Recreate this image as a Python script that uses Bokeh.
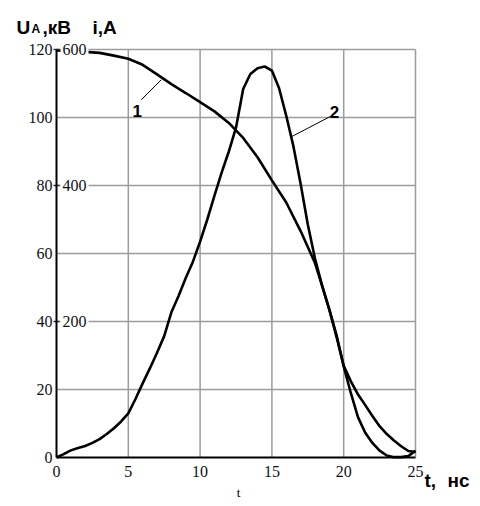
from bokeh.plotting import figure
from bokeh.models import Range1d, FixedTicker, Label
from bokeh.core.properties import value
from bokeh.embed import file_html
from bokeh.resources import INLINE

# ---- data ----
t_ticks = [0, 5, 10, 15, 20, 25]
u_ticks = [0, 20, 40, 60, 80, 100, 120]
i_ticks = [200, 400, 600]

# curve 1: voltage U_A, kV
t1 = [0, 1, 2, 3, 4, 5, 6, 7, 8, 9, 10, 11, 12, 13, 14, 15, 16, 17, 18, 18.5, 19,
      19.5, 20, 20.5, 21, 21.5, 22, 22.5, 23, 23.5, 24, 24.5, 25]
u1 = [119.7, 119.6, 119.3, 119.0, 118.2, 117.3, 115.5, 112.7, 109.8, 107.2, 104.5,
      101.8, 98.4, 94.0, 88.3, 81.5, 75.0, 66.6, 57.2, 50.5, 43.5,
      35.5, 27.0, 22.4, 18.5, 15.4, 12.2, 9.2, 6.9, 5.0, 3.3, 1.9, 1.6]

# curve 2: current i, A
t2 = [0, 0.5, 1, 1.5, 2, 2.5, 3, 3.5, 4, 4.5, 5, 5.5, 6, 6.5, 7, 7.5, 8, 8.5, 9, 9.5,
      10, 10.5, 11, 11.5, 12, 12.5, 13, 13.5, 14, 14.5, 15, 15.5, 16, 16.5, 17, 17.5,
      18, 18.5, 19, 19.5, 20, 20.5, 21, 21.5, 22, 22.5, 23, 23.5, 24, 24.5, 25]
i2 = [0, 5, 10.5, 14, 17, 21.5, 27, 34.5, 43, 53, 65, 86, 109, 131, 154, 178.5,
      213.5, 237.5, 264, 288, 317.5, 350, 385, 419, 450, 485, 542, 564, 572.5, 575,
      569, 543, 502.5, 457.5, 402.5, 342.5, 292.5, 252.5, 217.5, 180, 134, 94.5, 59,
      36.5, 21.5, 10, 3, 0.5, 0.5, 2, 10]

# ---- geometry: canvas pixels -> data units (plot box 0..25 x 0..120) ----
W, H = 478, 502
X0, X1, Y0, Y1 = 56.0, 415.0, 457.0, 49.0
def px(x):
    return (x - X0) * 25.0 / (X1 - X0)
def py(y):
    return (Y0 - y) * 120.0 / (Y0 - Y1)

GRID = "#9c9c9c"
T_MIN, T_MAX = t_ticks[0], t_ticks[-1]
U_MIN, U_MAX = u_ticks[0], u_ticks[-1]

p = figure(width=W, height=H, x_range=Range1d(px(0), px(W)), y_range=Range1d(py(H), py(0)),
           output_backend="svg", toolbar_location=None,
           min_border_left=0, min_border_right=0, min_border_top=0, min_border_bottom=0)
p.extra_y_ranges = {"i": Range1d(py(H) * 5, py(0) * 5)}

p.background_fill_color = "white"
p.border_fill_color = "white"
p.outline_line_color = None
p.xgrid.visible = False
p.ygrid.visible = False

# grid lines (plus top/right border) drawn from the tick arrays
gx = [t for t in t_ticks if t != T_MIN]
gy = [u for u in u_ticks if u != U_MIN]
p.segment(x0=gx, y0=[U_MIN] * len(gx), x1=gx, y1=[U_MAX] * len(gx),
          line_color=GRID, line_width=1.5)
p.segment(x0=[T_MIN] * len(gy), y0=gy, x1=[T_MAX] * len(gy), y1=gy,
          line_color=GRID, line_width=1.5)

# axes fixed at the data origin
p.xaxis.fixed_location = U_MIN
p.yaxis.fixed_location = T_MIN
p.xaxis.bounds = (T_MIN, T_MAX)
p.yaxis.bounds = (U_MIN, U_MAX)
p.xaxis.ticker = FixedTicker(ticks=t_ticks)
p.yaxis.ticker = FixedTicker(ticks=u_ticks)
for ax in (p.xaxis, p.yaxis):
    ax.axis_line_color = "black"
    ax.axis_line_width = 2
    ax.major_tick_out = 0
    ax.major_tick_in = 0
    ax.minor_tick_out = 0
    ax.minor_tick_in = 0
    ax.major_label_text_font = "Liberation Serif"
    ax.major_label_text_font_size = "16px"
    ax.major_label_text_color = "#111111"
p.xaxis.major_label_standoff = 8
p.yaxis.major_label_standoff = 4

p.line(t1, u1, line_color="black", line_width=2.6)
p.line(t2, i2, line_color="black", line_width=2.6, y_range_name="i")

# secondary (current) axis: small ticks and labels right of the left axis
p.segment(x0=[px(53)] * len(i_ticks), y0=i_ticks, x1=[px(59)] * len(i_ticks), y1=i_ticks,
          y_range_name="i", line_color="#333333", line_width=1.5)
p.text(x=[T_MIN] * len(i_ticks), y=i_ticks, text=[str(v) for v in i_ticks],
       y_range_name="i", x_offset=4, text_align="left", text_baseline="middle",
       text_font=value("Liberation Serif"), text_font_size="16px", text_color="#111111",
       background_fill_color="white", padding=2)

# curve labels with leader lines
p.segment(x0=[px(140.7), px(331.7)], y0=[py(99.3), py(115)],
          x1=[px(160.7), px(290)], y1=[py(79.3), py(136.7)],
          line_color="black", line_width=1)

def lab(txt, xx, yy, size="19px", font="Liberation Sans", style="bold", align="left"):
    p.add_layout(Label(x=px(xx), y=py(yy), text=txt, text_align=align,
                       text_baseline="alphabetic", text_font=font,
                       text_font_style=style, text_font_size=size, text_color="black"))

lab("1", 136.7, 110, size="17px", align="center")
lab("2", 334, 111.5, size="17px", align="center")

# axis titles
lab("U", 16, 27)
lab("A", 31, 28, size="12px")
lab(",кВ", 42, 27)
lab("i,A", 92, 27)
lab("t,", 424, 480)
lab("нс", 447, 480)
lab("t", 238, 492, size="13px", font="Liberation Serif", style="normal", align="center")

open("out.html", "w").write(file_html(p, INLINE))
